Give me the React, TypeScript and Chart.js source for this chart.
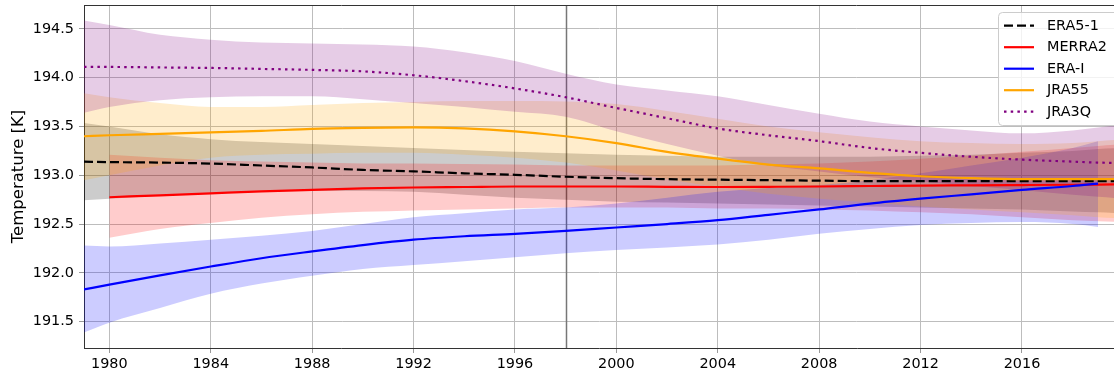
import React, { useEffect, useRef } from "react";
import { Chart, registerables } from "chart.js";

Chart.register(...registerables);

// Sample years of the smoothed curves and their uncertainty bands
const YEARS = [1979, 1980, 1982, 1984, 1986, 1988, 1990, 1992, 1994, 1996, 1998, 2000, 2002, 2004, 2006, 2008, 2010, 2012, 2014, 2016, 2018, 2019, 2020, 2021];
const MERRA2_YEARS = [1980, 1982, 1984, 1986, 1988, 1990, 1992, 1994, 1996, 1998, 2000, 2002, 2004, 2006, 2008, 2010, 2012, 2014, 2016, 2018, 2019, 2020, 2021];
const ERAI_YEARS = [1979, 1980, 1982, 1984, 1986, 1988, 1990, 1992, 1994, 1996, 1998, 2000, 2002, 2004, 2006, 2008, 2010, 2012, 2014, 2016, 2018, 2019];

// ERA5-1
const ERA5_MEAN = [193.14, 193.135, 193.13, 193.12, 193.10, 193.08, 193.055, 193.04, 193.02, 193.005, 192.985, 192.97, 192.96, 192.955, 192.95, 192.945, 192.94, 192.94, 192.94, 192.94, 192.94, 192.94, 192.94, 192.94];
const ERA5_HI = [193.535, 193.50, 193.42, 193.37, 193.34, 193.32, 193.30, 193.28, 193.26, 193.24, 193.225, 193.21, 193.20, 193.19, 193.19, 193.19, 193.19, 193.20, 193.21, 193.23, 193.25, 193.27, 193.28, 193.30];
const ERA5_LO = [192.745, 192.76, 192.79, 192.81, 192.83, 192.84, 192.84, 192.83, 192.80, 192.77, 192.75, 192.73, 192.72, 192.71, 192.70, 192.69, 192.68, 192.67, 192.66, 192.65, 192.63, 192.62, 192.61, 192.60];

// MERRA2
const MERRA2_MEAN = [192.775, 192.795, 192.815, 192.835, 192.85, 192.865, 192.875, 192.88, 192.885, 192.885, 192.885, 192.882, 192.88, 192.882, 192.885, 192.89, 192.895, 192.897, 192.90, 192.903, 192.905, 192.907, 192.91];
const MERRA2_HI = [193.21, 193.18, 193.155, 193.14, 193.13, 193.12, 193.12, 193.115, 193.11, 193.10, 193.10, 193.10, 193.10, 193.11, 193.12, 193.14, 193.17, 193.20, 193.24, 193.28, 193.30, 193.32, 193.34];
const MERRA2_LO = [192.36, 192.45, 192.51, 192.565, 192.60, 192.625, 192.64, 192.65, 192.66, 192.67, 192.67, 192.67, 192.66, 192.66, 192.65, 192.64, 192.62, 192.60, 192.57, 192.54, 192.53, 192.52, 192.51];

// ERA-I
const ERAI_MEAN = [191.83, 191.88, 191.975, 192.065, 192.15, 192.22, 192.285, 192.34, 192.375, 192.40, 192.43, 192.465, 192.50, 192.54, 192.595, 192.65, 192.71, 192.76, 192.805, 192.85, 192.89, 192.915];
const ERAI_HI = [192.28, 192.27, 192.30, 192.34, 192.38, 192.43, 192.50, 192.57, 192.61, 192.65, 192.67, 192.71, 192.77, 192.83, 192.87, 192.90, 192.95, 193.02, 193.10, 193.18, 193.28, 193.35];
const ERAI_LO = [191.39, 191.49, 191.64, 191.785, 191.89, 191.97, 192.04, 192.08, 192.12, 192.16, 192.20, 192.235, 192.26, 192.29, 192.34, 192.40, 192.45, 192.49, 192.51, 192.52, 192.50, 192.47];

// JRA55
const JRA55_MEAN = [193.40, 193.41, 193.425, 193.44, 193.455, 193.475, 193.485, 193.49, 193.48, 193.45, 193.40, 193.33, 193.24, 193.17, 193.11, 193.07, 193.025, 192.99, 192.97, 192.96, 192.96, 192.96, 192.96, 192.96];
const JRA55_HI = [193.84, 193.80, 193.74, 193.70, 193.70, 193.72, 193.74, 193.75, 193.76, 193.76, 193.755, 193.73, 193.66, 193.58, 193.50, 193.44, 193.39, 193.35, 193.33, 193.32, 193.33, 193.35, 193.37, 193.39];
const JRA55_LO = [192.95, 193.00, 193.10, 193.18, 193.21, 193.22, 193.23, 193.23, 193.21, 193.18, 193.13, 193.05, 192.96, 192.88, 192.81, 192.76, 192.72, 192.68, 192.65, 192.62, 192.59, 192.57, 192.56, 192.55];

// JRA3Q
const JRA3Q_MEAN = [194.11, 194.11, 194.105, 194.10, 194.09, 194.08, 194.065, 194.025, 193.965, 193.89, 193.80, 193.69, 193.585, 193.48, 193.41, 193.35, 193.28, 193.23, 193.19, 193.16, 193.14, 193.13, 193.125, 193.12];
const JRA3Q_HI = [194.585, 194.54, 194.44, 194.39, 194.36, 194.35, 194.34, 194.32, 194.26, 194.17, 194.04, 193.93, 193.87, 193.81, 193.72, 193.63, 193.55, 193.50, 193.46, 193.43, 193.46, 193.49, 193.52, 193.55];
const JRA3Q_LO = [193.64, 193.70, 193.77, 193.80, 193.81, 193.81, 193.78, 193.74, 193.70, 193.65, 193.60, 193.45, 193.32, 193.20, 193.10, 193.04, 192.98, 192.94, 192.89, 192.85, 192.80, 192.78, 192.76, 192.74];

const X_TICKS = [1980, 1984, 1988, 1992, 1996, 2000, 2004, 2008, 2012, 2016];
const Y_TICKS = [191.5, 192.0, 192.5, 193.0, 193.5, 194.0, 194.5];
const MARKER_YEAR = 1998;
const Y_LABEL = "Temperature [K]";

const FONT = "'DejaVu Sans', 'Liberation Sans', sans-serif";

type Series = {
  label: string;
  color: string;
  band: string;
  dash: number[];
  years: number[];
  mean: number[];
  lo: number[];
  hi: number[];
};

const SERIES: Series[] = [
  { label: "ERA5-1", color: "#000000", band: "rgba(0,0,0,0.2)", dash: [9, 4], years: YEARS, mean: ERA5_MEAN, lo: ERA5_LO, hi: ERA5_HI },
  { label: "MERRA2", color: "#ff0000", band: "rgba(255,0,0,0.2)", dash: [], years: MERRA2_YEARS, mean: MERRA2_MEAN, lo: MERRA2_LO, hi: MERRA2_HI },
  { label: "ERA-I", color: "#0000ff", band: "rgba(0,0,255,0.2)", dash: [], years: ERAI_YEARS, mean: ERAI_MEAN, lo: ERAI_LO, hi: ERAI_HI },
  { label: "JRA55", color: "#ffa500", band: "rgba(255,165,0,0.2)", dash: [], years: YEARS, mean: JRA55_MEAN, lo: JRA55_LO, hi: JRA55_HI },
  { label: "JRA3Q", color: "#800080", band: "rgba(128,0,128,0.2)", dash: [2.5, 4.2], years: YEARS, mean: JRA3Q_MEAN, lo: JRA3Q_LO, hi: JRA3Q_HI },
];

const toPoints = (xs: number[], ys: number[]) => xs.map((x, i) => ({ x, y: ys[i] }));

// Top spine and the vertical reference line
const framePlugin = {
  id: "frame",
  beforeDatasetsDraw(chart: any) {
    const { ctx, chartArea, scales } = chart;
    const x = Math.round(scales.x.getPixelForValue(MARKER_YEAR)) + 0.5;
    ctx.save();
    ctx.strokeStyle = "#777777";
    ctx.lineWidth = 1.5;
    ctx.beginPath();
    ctx.moveTo(x, chartArea.top);
    ctx.lineTo(x, chartArea.bottom);
    ctx.stroke();
    ctx.restore();
  },
  afterDraw(chart: any) {
    const { ctx, chartArea } = chart;
    ctx.save();
    ctx.strokeStyle = "#333333";
    ctx.lineWidth = 1;
    ctx.beginPath();
    ctx.moveTo(chartArea.left, chartArea.top + 0.5);
    ctx.lineTo(chartArea.right, chartArea.top + 0.5);
    ctx.stroke();
    ctx.restore();
  },
};

// Framed legend inside the upper right corner of the plot
const legendPlugin = {
  id: "innerLegend",
  afterDatasetsDraw(chart: any) {
    const { ctx } = chart;
    const items = chart.data.datasets.filter((d: any) => d.label);
    const left = 998.5;
    const top = 12.5;
    const width = 140;
    const rowH = 21.5;
    const height = 113;
    ctx.save();
    ctx.beginPath();
    ctx.roundRect(left, top, width, height, 4);
    ctx.fillStyle = "rgba(255,255,255,0.8)";
    ctx.fill();
    ctx.strokeStyle = "#cccccc";
    ctx.lineWidth = 1;
    ctx.stroke();
    ctx.font = `14.4px ${FONT}`;
    ctx.textBaseline = "middle";
    ctx.textAlign = "left";
    items.forEach((d: any, i: number) => {
      const cy = 25.7 + i * rowH;
      ctx.beginPath();
      ctx.setLineDash(d.borderDash || []);
      ctx.strokeStyle = d.borderColor;
      ctx.lineWidth = d.borderWidth;
      ctx.moveTo(1004, cy);
      ctx.lineTo(1034, cy);
      ctx.stroke();
      ctx.setLineDash([]);
      ctx.fillStyle = "#000000";
      ctx.fillText(d.label, 1047, cy + 0.5);
    });
    ctx.restore();
  },
};

export default function App() {
  const canvasRef = useRef<HTMLCanvasElement | null>(null);

  useEffect(() => {
    if (!canvasRef.current) return;
    const datasets: any[] = [];
    SERIES.forEach((s, i) => {
      datasets.push({
        label: "",
        data: toPoints(s.years, s.hi),
        borderColor: "rgba(0,0,0,0)",
        borderWidth: 0,
        pointRadius: 0,
        fill: false,
        cubicInterpolationMode: "monotone",
        order: 100 - i,
      });
      datasets.push({
        label: "",
        data: toPoints(s.years, s.lo),
        borderColor: "rgba(0,0,0,0)",
        borderWidth: 0,
        pointRadius: 0,
        backgroundColor: s.band,
        fill: "-1",
        cubicInterpolationMode: "monotone",
        order: 100 - i,
      });
    });
    SERIES.forEach((s, i) => {
      datasets.push({
        label: s.label,
        data: toPoints(s.years, s.mean),
        borderColor: s.color,
        borderWidth: 2.2,
        borderDash: s.dash,
        borderCapStyle: "butt",
        pointRadius: 0,
        fill: false,
        cubicInterpolationMode: "monotone",
        order: 50 - i,
      });
    });

    const tickFont = { family: FONT, size: 14.4 };
    const chart = new Chart(canvasRef.current, {
      type: "line",
      data: { datasets },
      options: {
        animation: false,
        responsive: false,
        events: [],
        layout: { padding: { top: 5, left: 0, right: 0, bottom: 0 } },
        plugins: { legend: { display: false }, tooltip: { enabled: false } },
        scales: {
          x: {
            type: "linear",
            min: 1979,
            max: 2019.63,
            afterBuildTicks: (s: any) => {
              s.ticks = X_TICKS.map((v) => ({ value: v }));
            },
            afterFit: (s: any) => {
              s.height = 27;
              s.paddingLeft = 0;
              s.paddingRight = 0;
            },
            ticks: {
              font: tickFont,
              color: "#000000",
              padding: 3,
              maxRotation: 0,
              autoSkip: false,
              callback: (v: any) => String(v),
            },
            grid: { color: "#bdbdbd", lineWidth: 1, tickLength: 5, tickColor: "#9a9a9a" },
            border: { color: "#333333", width: 1 },
          },
          y: {
            type: "linear",
            min: 191.23,
            max: 194.745,
            afterBuildTicks: (s: any) => {
              s.ticks = Y_TICKS.map((v) => ({ value: v }));
            },
            afterFit: (s: any) => {
              s.width = 84;
              s.paddingTop = 0;
              s.paddingBottom = 0;
            },
            ticks: {
              font: tickFont,
              color: "#000000",
              padding: 5,
              callback: (v: any) => Number(v).toFixed(1),
            },
            grid: { color: "#bdbdbd", lineWidth: 1, tickLength: 5, tickColor: "#9a9a9a" },
            border: { color: "#333333", width: 1 },
            title: {
              display: true,
              text: Y_LABEL,
              color: "#000000",
              font: { family: FONT, size: 16.5 },
              padding: { top: 9, bottom: 0 },
            },
          },
        },
      },
      plugins: [framePlugin, legendPlugin],
    } as any);
    return () => chart.destroy();
  }, []);

  return (
    <div style={{ position: "absolute", left: 0, top: 0, width: 1114, height: 375, background: "#ffffff" }}>
      <canvas ref={canvasRef} width={1114} height={375} style={{ display: "block" }} />
    </div>
  );
}
